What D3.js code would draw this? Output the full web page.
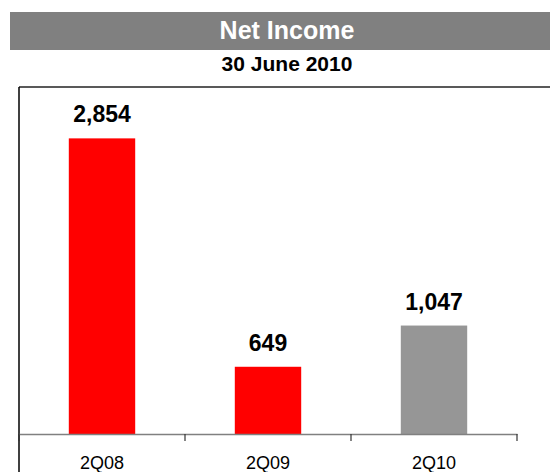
<!DOCTYPE html>
<html>
<head>
<meta charset="utf-8">
<script src="https://cdn.jsdelivr.net/npm/d3@7"></script>
<style>
  html, body { margin: 0; padding: 0; background: #fff; }
  svg { display: block; font-family: "Liberation Sans", Arial, sans-serif; }
</style>
</head>
<body>
<svg id="chart" width="550" height="472"></svg>
<script>
const categories = ["2Q08", "2Q09", "2Q10"];
const values = [2854, 649, 1047];
const barColors = ["#ff0000", "#ff0000", "#969696"];
const title = "Net Income";
const subtitle = "30 June 2010";

(function () {
const svg = d3.select("#chart");
const plotLeft = 19, plotRight = 517, plotTop = 87, baseline = 434;

// title band
svg.append("rect").attr("x", 10).attr("y", 12).attr("width", 540).attr("height", 38).attr("fill", "#808080");
svg.append("text").attr("x", 287).attr("y", 39).attr("text-anchor", "middle")
  .attr("fill", "#fff").attr("font-weight", "bold").attr("font-size", 25).text(title);
svg.append("text").attr("x", 287).attr("y", 71).attr("text-anchor", "middle")
  .attr("fill", "#000").attr("font-weight", "bold").attr("font-size", 21).text(subtitle);

// frame
svg.append("line").attr("x1", plotLeft).attr("x2", 550).attr("y1", plotTop).attr("y2", plotTop)
  .attr("stroke", "#222").attr("stroke-width", 1.5);
svg.append("line").attr("x1", plotLeft).attr("x2", plotLeft).attr("y1", plotTop).attr("y2", 472)
  .attr("stroke", "#000").attr("stroke-width", 1.5);

const x = d3.scaleBand().domain(categories).range([plotLeft, plotRight]).paddingInner(0.6).paddingOuter(0.3);
const y = d3.scaleLinear().domain([0, 3350]).range([baseline, plotTop]);

const data = categories.map((c, i) => ({ c, v: values[i], color: barColors[i] }));

svg.selectAll("rect.bar").data(data).enter().append("rect").attr("class", "bar")
  .attr("x", d => x(d.c)).attr("width", x.bandwidth())
  .attr("y", d => y(d.v)).attr("height", d => baseline - y(d.v))
  .attr("fill", d => d.color);

svg.selectAll("text.val").data(data).enter().append("text").attr("class", "val")
  .attr("x", d => x(d.c) + x.bandwidth() / 2).attr("y", d => y(d.v) - 16)
  .attr("text-anchor", "middle").attr("font-weight", "bold").attr("font-size", 23)
  .attr("fill", "#000").text(d => d3.format(",")(d.v));

// axis
const axis = svg.append("g").attr("transform", `translate(0,${baseline})`)
  .call(d3.axisBottom(x).tickSize(0).tickPadding(22));
axis.select(".domain").attr("stroke", "#808080").attr("stroke-width", 1.5);
axis.selectAll("text").attr("font-size", 18).attr("fill", "#000")
  .attr("font-family", "\"Liberation Sans\", Arial, sans-serif");

const edges = d3.range(categories.length + 1).map(i => plotLeft + i * x.step());
svg.selectAll("line.edge").data(edges).enter().append("line").attr("class", "edge")
  .attr("x1", d => d).attr("x2", d => d).attr("y1", baseline).attr("y2", baseline + 7)
  .attr("stroke", "#333").attr("stroke-width", 1.2);
})();
</script>
</body>
</html>
